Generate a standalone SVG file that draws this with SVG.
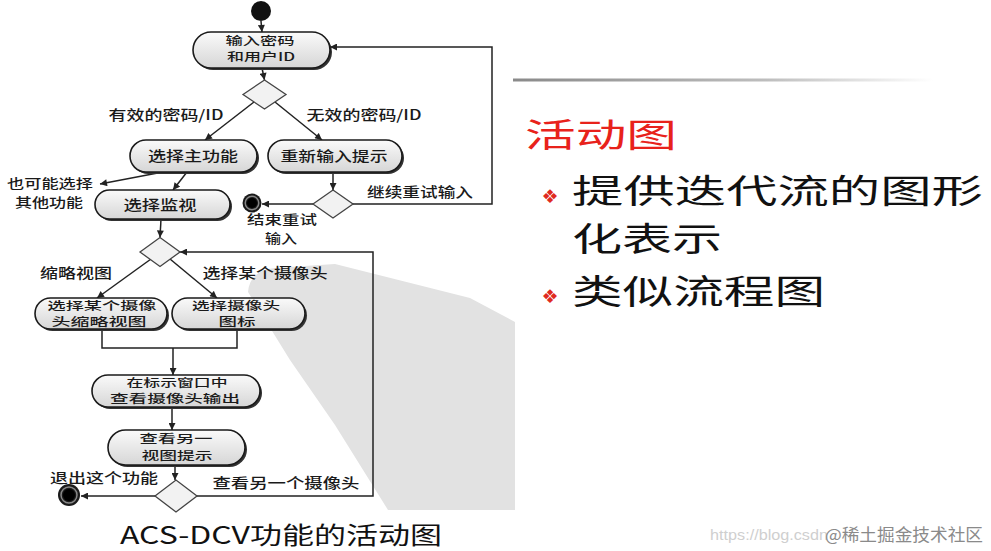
<svg xmlns="http://www.w3.org/2000/svg" width="991" height="551" viewBox="0 0 991 551">
<defs>
<style>
.t{font-family:"Noto Sans CJK SC","Noto Sans",sans-serif;font-size:14px;fill:#1a1a1a;text-anchor:middle;font-weight:500}
.t3{font-family:"Noto Sans CJK SC","Noto Sans",sans-serif;font-size:13px;fill:#1a1a1a;text-anchor:middle;font-weight:500}
.t2{font-family:"Noto Sans CJK SC","Noto Sans",sans-serif;font-size:11.5px;fill:#1a1a1a;text-anchor:middle;font-weight:500}
.node{fill:url(#ng);stroke:#1a1a1a;stroke-width:1.6}
.shadow{fill:#333}
.dia{fill:#f2f2f2;stroke:#444;stroke-width:1.3}
.c{fill:none;stroke:#222;stroke-width:1.5}
.ca{fill:none;stroke:#222;stroke-width:1.5;marker-end:url(#ah)}
.big{font-family:"Noto Sans CJK SC","Noto Sans",sans-serif;fill:#111}
.bul{font-family:"DejaVu Sans",sans-serif;font-size:19px;fill:#e02a20;text-anchor:middle}
</style>
<linearGradient id="ng" x1="0" y1="0" x2="0" y2="1">
<stop offset="0" stop-color="#fafafa"/>
<stop offset="1" stop-color="#d6d6d6"/>
</linearGradient>
<linearGradient id="lg" x1="0" y1="0" x2="1" y2="0">
<stop offset="0" stop-color="#8a8a8a"/>
<stop offset="0.6" stop-color="#bdbdbd"/>
<stop offset="1" stop-color="#ffffff"/>
</linearGradient>
<marker id="ah" viewBox="0 0 10 10" refX="10" refY="5" markerWidth="8" markerHeight="7" markerUnits="userSpaceOnUse" orient="auto">
<path d="M0,0 L10,5 L0,10 z" fill="#222"/>
</marker>
</defs>
<rect width="991" height="551" fill="#ffffff"/>
<path id="watermark-shape" d="M248,292 Q250,270 275,268 L335,264 L470,298 L515,322 L515,510 L388,510 L335,425 L290,360 Z" fill="#e2e2e2"/>

<g id="connectors">
<line class="ca" x1="261" y1="21" x2="262" y2="32"/>
<line class="ca" x1="262" y1="68" x2="264.5" y2="80"/>
<line class="ca" x1="254" y1="102" x2="205" y2="140"/>
<line class="ca" x1="275" y1="102" x2="322" y2="140"/>
<line class="ca" x1="333" y1="172" x2="333" y2="190"/>
<line class="ca" x1="313" y1="204" x2="262" y2="204"/>
<polyline class="ca" points="353,204 492,204 492,47 330,47"/>
<line class="ca" x1="163" y1="172" x2="100" y2="184"/>
<line class="ca" x1="187" y1="172" x2="173" y2="190"/>
<line class="ca" x1="161" y1="219" x2="160" y2="237.5"/>
<polyline class="ca" points="197,496 373,496 373,252 180,252"/>
<line class="ca" x1="151" y1="259" x2="97" y2="298"/>
<line class="ca" x1="170" y1="259" x2="217" y2="298"/>
<polyline class="c" points="102,329 102,348 237,348 237,329"/>
<line class="ca" x1="173" y1="348" x2="173" y2="375"/>
<line class="ca" x1="172" y1="407" x2="172" y2="430"/>
<line class="ca" x1="175" y1="465" x2="175" y2="480"/>
<line class="ca" x1="155" y1="496" x2="81" y2="496"/>
</g>

<g id="start"><circle cx="261" cy="11" r="10" fill="#111"/></g>

<g id="n-input">
<rect class="shadow" x="195" y="34" width="137" height="36" rx="18"/>
<rect class="node" x="193" y="32" width="137" height="36" rx="18"/>
<text class="t2"><tspan x="260" y="44.5" textLength="69" lengthAdjust="spacingAndGlyphs">输入密码</tspan><tspan x="261" y="61.2" textLength="68" lengthAdjust="spacingAndGlyphs">和用户ID</tspan></text>
</g>

<g id="d1"><polygon class="dia" points="243,94.5 264.5,80 286,94.5 264.5,109"/></g>
<g id="l-valid"><text class="t" x="166" y="120" textLength="115" lengthAdjust="spacingAndGlyphs">有效的密码/ID</text></g>
<g id="l-invalid"><text class="t" x="364" y="120" textLength="115" lengthAdjust="spacingAndGlyphs">无效的密码/ID</text></g>

<g id="n-main">
<rect class="shadow" x="132" y="142" width="127" height="32" rx="16"/>
<rect class="node" x="130" y="140" width="127" height="32" rx="16"/>
<text class="t" x="193" y="161" textLength="90" lengthAdjust="spacingAndGlyphs">选择主功能</text>
</g>

<g id="n-retry">
<rect class="shadow" x="270" y="142" width="134" height="32" rx="16"/>
<rect class="node" x="268" y="140" width="134" height="32" rx="16"/>
<text class="t" x="334" y="161" textLength="107" lengthAdjust="spacingAndGlyphs">重新输入提示</text>
</g>

<g id="d2"><polygon class="dia" points="313,204 333,190 353,204 333,218"/></g>
<g id="l-continue"><text class="t" x="420" y="197" textLength="106" lengthAdjust="spacingAndGlyphs">继续重试输入</text></g>

<g id="end1">
<circle cx="252" cy="203" r="9.5" fill="#1a1a1a"/>
<circle cx="252" cy="203" r="6.8" fill="none" stroke="#888" stroke-width="1.4"/>
<circle cx="252" cy="203" r="5" fill="#000"/>
</g>
<g id="l-end-retry">
<text class="t3"><tspan x="282" y="224" textLength="70" lengthAdjust="spacingAndGlyphs">结束重试</tspan><tspan x="281" y="243" textLength="32" lengthAdjust="spacingAndGlyphs">输入</tspan></text>
</g>

<g id="l-other">
<text class="t3"><tspan x="50" y="188" textLength="86" lengthAdjust="spacingAndGlyphs">也可能选择</tspan><tspan x="49" y="207" textLength="68" lengthAdjust="spacingAndGlyphs">其他功能</tspan></text>
</g>

<g id="n-monitor">
<rect class="shadow" x="97" y="192" width="135" height="29" rx="14.5"/>
<rect class="node" x="95" y="190" width="135" height="29" rx="14.5"/>
<text class="t" x="160" y="210" textLength="73" lengthAdjust="spacingAndGlyphs">选择监视</text>
</g>

<g id="d3"><polygon class="dia" points="140,252 160,237.5 180,252 160,266.5"/></g>
<g id="l-thumb"><text class="t" x="76" y="278" textLength="72" lengthAdjust="spacingAndGlyphs">缩略视图</text></g>
<g id="l-cam"><text class="t" x="265" y="278" textLength="125" lengthAdjust="spacingAndGlyphs">选择某个摄像头</text></g>

<g id="n-thumb">
<rect class="shadow" x="37" y="300" width="132" height="31" rx="15.5"/>
<rect class="node" x="35" y="298" width="132" height="31" rx="15.5"/>
<text class="t2"><tspan x="102" y="309.5" textLength="109" lengthAdjust="spacingAndGlyphs">选择某个摄像</tspan><tspan x="99" y="326.2" textLength="95" lengthAdjust="spacingAndGlyphs">头缩略视图</tspan></text>
</g>

<g id="n-icon">
<rect class="shadow" x="174" y="300" width="133" height="31" rx="15.5"/>
<rect class="node" x="172" y="298" width="133" height="31" rx="15.5"/>
<text class="t2"><tspan x="236" y="309.5" textLength="88" lengthAdjust="spacingAndGlyphs">选择摄像头</tspan><tspan x="237" y="326.2" textLength="37" lengthAdjust="spacingAndGlyphs">图标</tspan></text>
</g>

<g id="n-view">
<rect class="shadow" x="94" y="377" width="168" height="32" rx="16"/>
<rect class="node" x="92" y="375" width="168" height="32" rx="16"/>
<text class="t2"><tspan x="177" y="386.5" textLength="101" lengthAdjust="spacingAndGlyphs">在标示窗口中</tspan><tspan x="175" y="403.2" textLength="130" lengthAdjust="spacingAndGlyphs">查看摄像头输出</tspan></text>
</g>

<g id="n-hint">
<rect class="shadow" x="110" y="432" width="137" height="35" rx="17.5"/>
<rect class="node" x="108" y="430" width="137" height="35" rx="17.5"/>
<text class="t2"><tspan x="176" y="443" textLength="73" lengthAdjust="spacingAndGlyphs">查看另一</tspan><tspan x="177" y="459.7" textLength="71" lengthAdjust="spacingAndGlyphs">视图提示</tspan></text>
</g>

<g id="d4"><polygon class="dia" points="155,496 176,480 197,496 176,512"/></g>
<g id="l-exit"><text class="t" x="104" y="483" textLength="108" lengthAdjust="spacingAndGlyphs">退出这个功能</text></g>
<g id="l-another"><text class="t" x="286" y="488" textLength="147" lengthAdjust="spacingAndGlyphs">查看另一个摄像头</text></g>

<g id="end2">
<circle cx="69" cy="495" r="11" fill="#1a1a1a"/>
<circle cx="69" cy="495" r="8" fill="none" stroke="#888" stroke-width="1.5"/>
<circle cx="69" cy="495" r="6" fill="#000"/>
</g>

<g id="caption"><text class="big" x="120" y="544" font-size="24" textLength="322" lengthAdjust="spacingAndGlyphs">ACS-DCV功能的活动图</text></g>

<g id="panel">
<rect x="513" y="78.5" width="420" height="3" fill="url(#lg)"/>
<text class="big" x="525" y="147" font-size="33" style="fill:#e8221b" textLength="152" lengthAdjust="spacingAndGlyphs">活动图</text>
<text class="bul" x="550" y="203">❖</text>
<text class="big" font-size="33"><tspan x="572" y="203" textLength="411" lengthAdjust="spacingAndGlyphs">提供迭代流的图形</tspan><tspan x="572" y="251" textLength="150" lengthAdjust="spacingAndGlyphs">化表示</tspan></text>
<text class="bul" x="550" y="303">❖</text>
<text class="big" x="572" y="304" font-size="34" textLength="253" lengthAdjust="spacingAndGlyphs">类似流程图</text>
</g>

<g id="watermark-text">
<text x="710" y="540" font-family="Liberation Sans, sans-serif" font-size="15" fill="#cfcfcf" textLength="118" lengthAdjust="spacingAndGlyphs">https://blog.csdn</text>
<text x="825" y="541" font-family="Noto Sans CJK SC, sans-serif" font-size="17" fill="#8a8a8a" textLength="158" lengthAdjust="spacingAndGlyphs">@稀土掘金技术社区</text>
</g>
</svg>
